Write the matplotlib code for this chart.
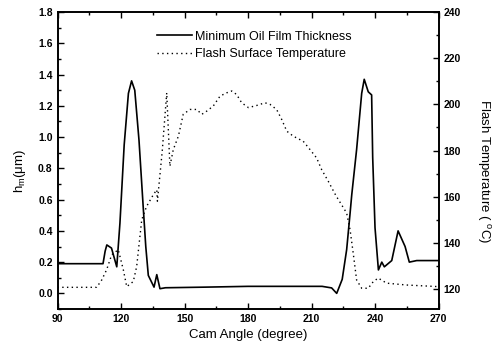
import matplotlib as mpl
mpl.use('Agg')
import matplotlib.pyplot as plt
from matplotlib.ticker import MultipleLocator

plt.rcParams['font.family'] = ['Liberation Sans', 'DejaVu Sans']

# minimum oil film thickness (um) vs cam angle (deg)
film_deg = [90, 111.5, 112.5, 113.3, 115.5, 118.0, 119.5, 121.5, 123.5, 125.0, 126.5,
            128.5, 130.5, 131.7, 132.9, 135.6, 136.9, 138.4, 141, 160, 180, 200,
            215, 219.5, 221.9, 224.5, 226.6, 228.2, 229.0, 231.3, 233.7, 234.9,
            236.8, 238.4, 238.9, 240.0, 241.6, 243.2, 244.4, 247.9, 250.9, 254.2,
            256.2, 259.7, 270]
film_um = [0.19, 0.19, 0.27, 0.31, 0.29, 0.17, 0.45, 0.95, 1.28, 1.36, 1.30,
           0.98, 0.55, 0.30, 0.115, 0.04, 0.12, 0.03, 0.036, 0.04, 0.045, 0.045,
           0.045, 0.035, 0.0, 0.09, 0.28, 0.51, 0.63, 0.92, 1.28, 1.37,
           1.29, 1.27, 0.87, 0.42, 0.15, 0.20, 0.17, 0.21, 0.40, 0.30,
           0.20, 0.21, 0.21]

# flash surface temperature (C) vs cam angle (deg)
temp_deg = [90, 108.5, 110.9, 113.2, 115.6, 118.7, 121.1, 122.7, 125.8, 127.4, 128.6,
            129.8, 132.1, 135.3, 136.9, 137.2, 139.5, 141.6, 143.1, 144.7, 147.1,
            149.4, 152.6, 155.8, 158.1, 159.7, 163.6, 166.8, 169.9, 172.3, 174.6,
            177.0, 180.2, 184.0, 188.0, 190.4, 193.5, 195.9, 198.3, 201.4, 206.1,
            209.3, 212.4, 214.8, 217.9, 221.5, 226.6, 228.2, 229.7, 231.3, 233.7,
            236.8, 239.2, 241.5, 245.5, 254.9, 270]
temp_c = [120.7, 120.7, 123.9, 128.3, 134.8, 137.0, 128.3, 121.0, 123.2, 129.7, 139.9,
          150.0, 155.8, 160.9, 163.0, 158.0, 180.0, 205.0, 173.2, 180.4, 186.2,
          195.7, 197.8, 197.8, 195.7, 196.5, 199.3, 203.6, 205.0, 205.8, 204.3,
          200.7, 198.6, 199.5, 200.7, 200.0, 197.8, 193.5, 188.4, 186.2, 184.0,
          180.4, 176.8, 171.7, 166.7, 160.5, 152.9, 145.7, 135.5, 123.9, 120.3,
          120.3, 123.2, 124.7, 122.5, 121.7, 121.0]

fig = plt.figure(figsize=(4.94, 3.56), dpi=100)
ax = fig.add_axes([0.1164, 0.132, 0.7713, 0.834])
ax2 = ax.twinx()

l1, = ax.plot(film_deg, film_um, color='black', lw=1.2, label='Minimum Oil Film Thickness')
l2, = ax2.plot(temp_deg, temp_c, color='black', lw=1.0, linestyle=(0, (1, 2.4)),
               label='Flash Surface Temperature')

ax.set_xlim(90, 270)
ax.set_ylim(-0.1, 1.8)
ax2.set_ylim(111.3, 240)

ax.xaxis.set_major_locator(MultipleLocator(30))
ax.xaxis.set_minor_locator(MultipleLocator(15))
ax.yaxis.set_major_locator(MultipleLocator(0.2))
ax.yaxis.set_minor_locator(MultipleLocator(0.1))
ax2.yaxis.set_major_locator(MultipleLocator(20))
ax2.yaxis.set_minor_locator(MultipleLocator(10))

ax.tick_params(which='both', direction='in', top=True, labelsize=7.5, width=1)
ax.tick_params(which='major', length=4)
ax.tick_params(which='minor', length=2)
ax2.tick_params(which='both', direction='in', labelsize=7.5, width=1)
ax2.tick_params(which='major', length=4)
ax2.tick_params(which='minor', length=2)
for lab in ax.get_xticklabels() + ax.get_yticklabels() + ax2.get_yticklabels():
    lab.set_fontweight('bold')
for a in (ax, ax2):
    for s in a.spines.values():
        s.set_linewidth(1.2)

ax.set_xlabel('Cam Angle (degree)', fontsize=9.5, labelpad=4)
ax.set_ylabel(r'h$_{\mathregular{m}}$($\mathregular{\mu}$m)', fontsize=9.5,
              va='center', ha='center')
ax.yaxis.set_label_coords(-0.098, 0.465)
ax2.set_ylabel(r'Flash Temperature ( $\mathregular{^o}$C)', fontsize=9.5, rotation=-90,
               va='center', ha='center')
ax2.yaxis.set_label_coords(1.118, 0.465)

ax.legend(handles=[l1, l2], loc='upper left', bbox_to_anchor=(0.232, 0.975), frameon=False,
          fontsize=9, handlelength=2.8, handletextpad=0.24, labelspacing=0.43)

fig.savefig('out.png', dpi=100)
